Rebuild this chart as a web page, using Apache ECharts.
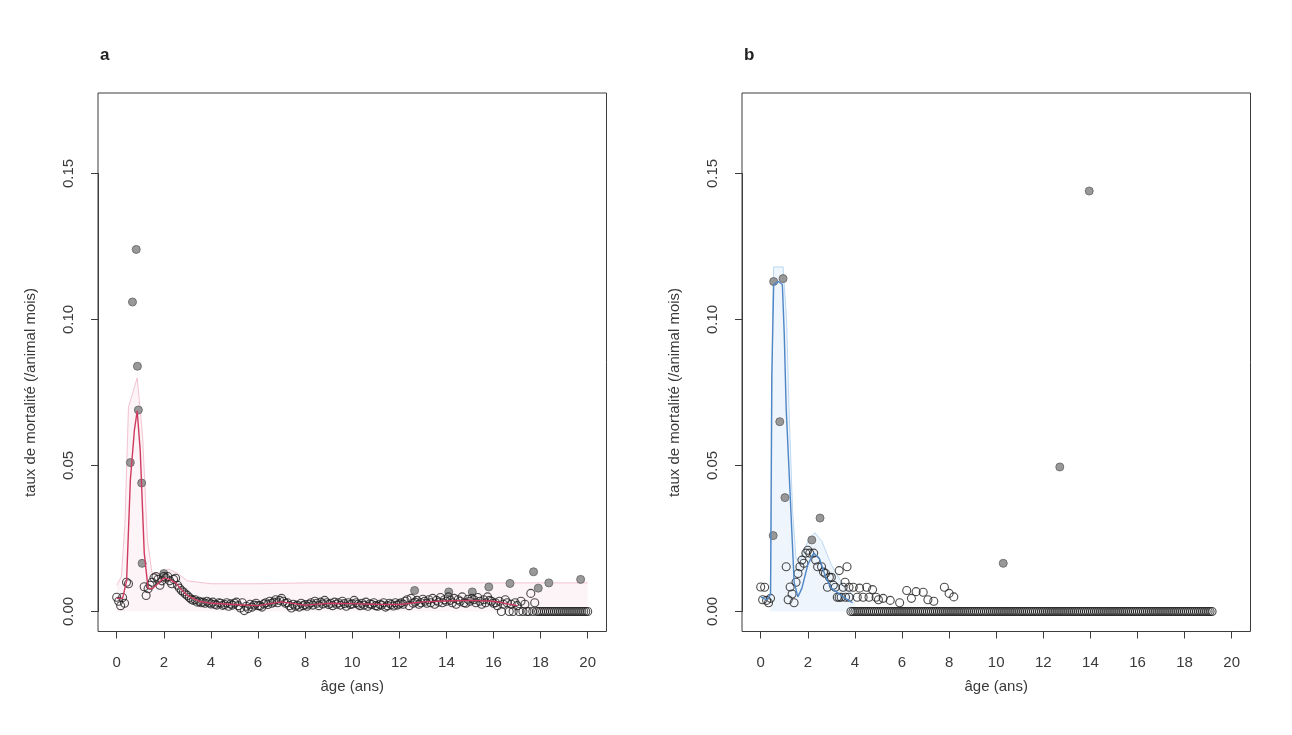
<!DOCTYPE html>
<html><head><meta charset="utf-8">
<script src="https://cdn.jsdelivr.net/npm/echarts/dist/echarts.min.js"></script>
<style>html,body{margin:0;padding:0;background:#fff}#c{width:1292px;height:735px}</style>
</head><body><div id="c"></div>
<script>
// ---- tick labels ----
const xTicks = [0, 2, 4, 6, 8, 10, 12, 14, 16, 18, 20];
const yTicks = ['0.00', '0.05', '0.10', '0.15'];
const panelLabels = ['a', 'b'];
const xTitle = 'âge (ans)';
const yTitle = 'taux de mortalité (/animal mois)';

// ---- panel a : monthly mortality rate (one value per month of age, from 0 months) ----
const rateA = [
  0.0049, 0.0035, 0.0020, 0.0048, 0.0028, 0.0100, 0.0095, null, null, null, null, null,
  null, null, 0.0085, 0.0055, 0.0078, 0.0090, 0.0100, 0.0115, 0.0120, 0.0110, 0.0090, 0.0105,
  0.0120, 0.0115, 0.0120, 0.0105, 0.0095, 0.0110, 0.0114, 0.0090, 0.0080, 0.0072, 0.0067, 0.0060,
  0.0055, 0.0048, 0.0042, 0.0038, 0.0040, 0.0032, 0.0035, 0.0030, 0.0032, 0.0028, 0.0035, 0.0030,
  0.0026, 0.0032, 0.0025, 0.0022, 0.0030, 0.0028, 0.0021, 0.0024, 0.0030, 0.0018, 0.0026, 0.0022,
  0.0028, 0.0032, 0.0020, 0.0012, 0.0030, 0.0003, 0.0018, 0.0010, 0.0025, 0.0015, 0.0022, 0.0028,
  0.0020, 0.0020, 0.0015, 0.0026, 0.0030, 0.0024, 0.0035, 0.0028, 0.0032, 0.0040, 0.0030, 0.0038,
  0.0045, 0.0035, 0.0028, 0.0030, 0.0020, 0.0012, 0.0025, 0.0018, 0.0022, 0.0015, 0.0028, 0.0020,
  0.0024, 0.0018, 0.0025, 0.0030, 0.0022, 0.0035, 0.0028, 0.0020, 0.0032, 0.0026, 0.0038, 0.0030,
  0.0024, 0.0028, 0.0020, 0.0032, 0.0025, 0.0030, 0.0022, 0.0035, 0.0027, 0.0018, 0.0030, 0.0024,
  0.0026, 0.0038, 0.0030, 0.0025, 0.0020, 0.0028, 0.0022, 0.0032, 0.0018, 0.0026, 0.0024, 0.0030,
  0.0020, 0.0018, 0.0025, 0.0022, 0.0030, 0.0015, 0.0020, 0.0028, 0.0024, 0.0019, 0.0030, 0.0022,
  0.0026, 0.0030, 0.0025, 0.0035, 0.0040, 0.0020, 0.0045, 0.0028, 0.0032, 0.0038, 0.0025, 0.0030,
  0.0042, 0.0035, 0.0028, 0.0040, 0.0030, 0.0045, 0.0025, 0.0038, 0.0032, 0.0048, 0.0030, 0.0040,
  0.0035, 0.0050, 0.0038, 0.0030, 0.0045, 0.0025, 0.0040, 0.0035, 0.0050, 0.0030, 0.0028, 0.0042,
  0.0035, 0.0045, 0.0040, 0.0030, 0.0048, 0.0035, 0.0025, 0.0040, 0.0030, 0.0050, 0.0038, 0.0035,
  0.0028, 0.0030, 0.0020, 0.0035, 0.0000, 0.0025, 0.0040, 0.0030, 0.0000, 0.0025, 0.0000, 0.0030,
  0.0020, 0.0000, 0.0035, 0.0000, 0.0025, 0.0000, 0.0000, 0.0062, 0.0000, 0.0030, 0.0000, 0.0000,
  0.0000, 0.0000, 0.0000, 0.0000, 0.0000, 0.0000, 0.0000, 0.0000, 0.0000, 0.0000, 0.0000, 0.0000,
  0.0000, 0.0000, 0.0000, 0.0000, 0.0000, 0.0000, 0.0000, 0.0000, 0.0000, 0.0000, 0.0000, 0.0000,
  0.0000
];
// grey filled points (age in years, rate)
const filledA = [
  [0.58, 0.051], [0.67, 0.106], [0.83, 0.124], [0.88, 0.084], [0.92, 0.069], [1.06, 0.044],
  [1.08, 0.0165], [2.0, 0.013], [12.65, 0.0072], [14.1, 0.0067], [15.1, 0.0067], [15.8, 0.0084],
  [16.7, 0.0096], [17.7, 0.0136], [17.9, 0.008], [18.35, 0.0098], [19.7, 0.011]
];
// fitted curve (red) and upper envelope (pink)
const fitA = [
  [0, 0.0045], [0.25, 0.0045], [0.42, 0.0105], [0.58, 0.045], [0.75, 0.062], [0.87, 0.0687],
  [1.0, 0.055], [1.17, 0.02], [1.33, 0.008], [1.5, 0.0078], [1.75, 0.0095], [2.0, 0.0115],
  [2.25, 0.011], [2.5, 0.0098], [2.75, 0.0075], [3.0, 0.0055], [3.5, 0.0035], [4, 0.0028],
  [5, 0.0024], [6, 0.002], [7, 0.0033], [8, 0.0022], [9, 0.0028], [10, 0.0027], [11, 0.0025],
  [12, 0.0024], [13, 0.0033], [14, 0.0036], [15, 0.0038], [16, 0.0035], [17, 0.002]
];
const envA = [
  [0, 0.009], [0.2, 0.012], [0.35, 0.03], [0.5, 0.07], [0.87, 0.08], [1.1, 0.06], [1.3, 0.025],
  [1.5, 0.013], [1.8, 0.013], [2.2, 0.0145], [2.6, 0.013], [3, 0.0105], [4, 0.0095], [6, 0.0095],
  [8, 0.0098], [10, 0.0098], [12, 0.0098], [14, 0.0098], [16, 0.0098], [18, 0.0098], [20, 0.0098]
];

// ---- panel b ----
const rateB = [
  0.0084, 0.0040, 0.0083, 0.0038, 0.0030, 0.0045, null, null, null, null, null, null,
  null, 0.0153, 0.0040, 0.0084, 0.0060, 0.0030, 0.0100, 0.0130, 0.0153, 0.0176, 0.0165, 0.0200,
  0.0210, 0.0200, null, 0.0200, 0.0176, 0.0153, null, 0.0153, 0.0135, 0.0130, 0.0083, 0.0117,
  0.0117, 0.0090, 0.0083, 0.0049, 0.0140, 0.0049, 0.0083, 0.0100, 0.0153, 0.0049, 0.0000, 0.0000,
  0, 0, 0, 0, 0, 0, 0, 0, 0, 0, 0, 0,
  0, 0, 0, 0, 0, 0, 0, 0, 0, 0, 0, 0,
  0, 0, 0, 0, 0, 0, 0, 0, 0, 0, 0, 0,
  0, 0, 0, 0, 0, 0, 0, 0, 0, 0, 0, 0,
  0, 0, 0, 0, 0, 0, 0, 0, 0, 0, 0, 0,
  0, 0, 0, 0, 0, 0, 0, 0, 0, 0, 0, 0,
  0, 0, 0, 0, 0, 0, 0, 0, 0, 0, 0, 0,
  0, 0, 0, 0, 0, 0, 0, 0, 0, 0, 0, 0,
  0, 0, 0, 0, 0, 0, 0, 0, 0, 0, 0, 0,
  0, 0, 0, 0, 0, 0, 0, 0, 0, 0, 0, 0,
  0, 0, 0, 0, 0, 0, 0, 0, 0, 0, 0, 0,
  0, 0, 0, 0, 0, 0, 0, 0, 0, 0, 0, 0,
  0, 0, 0, 0, 0, 0, 0, 0, 0, 0, 0, 0,
  0, 0, 0, 0, 0, 0, 0, 0, 0, 0, 0, 0,
  0, 0, 0, 0, 0, 0, 0, 0, 0, 0, 0, 0,
  0, 0, 0
];
const extraB = [
  [3.33, 0.0049], [3.6, 0.0049], [3.75, 0.0083], [3.93, 0.0083], [4.1, 0.0049], [4.2, 0.008],
  [4.35, 0.0049], [4.5, 0.0083], [4.6, 0.0049], [4.75, 0.0075], [4.9, 0.0049], [5.0, 0.004],
  [5.2, 0.0045], [5.5, 0.0038], [5.9, 0.003], [6.2, 0.0072], [6.4, 0.0045], [6.6, 0.0068],
  [6.9, 0.0066], [7.1, 0.004], [7.35, 0.0035], [7.8, 0.0083], [8.0, 0.0062], [8.2, 0.005]
];
const filledB = [
  [0.53, 0.026], [0.55, 0.113], [0.81, 0.065], [0.95, 0.114], [1.03, 0.039], [2.17, 0.0245],
  [2.52, 0.032], [10.3, 0.0165], [12.7, 0.0495], [13.95, 0.144]
];
const fitB = [
  [0, 0.005], [0.25, 0.004], [0.42, 0.006], [0.47, 0.08], [0.55, 0.112], [0.75, 0.113],
  [0.92, 0.112], [1.0, 0.095], [1.08, 0.07], [1.25, 0.04], [1.42, 0.01], [1.58, 0.005],
  [1.75, 0.008], [2.0, 0.016], [2.25, 0.02], [2.5, 0.018], [2.75, 0.012], [3.0, 0.008],
  [3.5, 0.005], [3.9, 0.003]
];
const envB = [
  [0.4, 0.004], [0.45, 0.03], [0.5, 0.1], [0.55, 0.118], [0.95, 0.118], [1.1, 0.1], [1.2, 0.07],
  [1.35, 0.035], [1.5, 0.018], [1.7, 0.018], [2.0, 0.024], [2.3, 0.027], [2.6, 0.024],
  [3.0, 0.016], [3.5, 0.009], [4.0, 0.005]
];

// ---- build ----
const monthly = arr => arr.map((v, i) => [i / 12, v]);
const FONT = 'Liberation Sans, Arial, Helvetica, sans-serif';
const AX = '#3c3c3c', TXT = '#3a3a3a';
const PX = [0, 644];   // horizontal shift of panel b

const grids = [], xAxes = [], yAxes = [], series = [], titles = [];
[0, 1].forEach(p => {
  const dx = PX[p];
  grids.push({ left: 98 + dx, top: 93, width: 508.5, height: 538.5, show: true,
    borderColor: AX, borderWidth: 1, backgroundColor: 'transparent' });
  grids.push({ left: 116.7 + dx, top: 173.5, width: 471, height: 438 });
  const gb = p * 2, gd = p * 2 + 1;
  xAxes.push({ gridIndex: gb, show: false, min: 0, max: 1 });
  yAxes.push({ gridIndex: gb, show: false, min: 0, max: 1 });
  xAxes.push({ gridIndex: gd, type: 'value', min: xTicks[0], max: xTicks[xTicks.length - 1],
    interval: xTicks[1] - xTicks[0], offset: 20,
    axisLine: { show: true, onZero: false, lineStyle: { color: AX, width: 1 } },
    axisTick: { show: true, inside: false, length: 7, lineStyle: { color: AX } },
    axisLabel: { margin: 24, fontSize: 15, color: TXT, fontFamily: FONT },
    splitLine: { show: false },
    name: xTitle, nameLocation: 'middle', nameGap: 48,
    nameTextStyle: { fontSize: 15, color: TXT, fontFamily: FONT } });
  yAxes.push({ gridIndex: gd, type: 'value', min: 0, max: 0.15, interval: 0.05, offset: 18.7,
    axisLine: { show: true, onZero: false, lineStyle: { color: AX, width: 1 } },
    axisTick: { show: true, inside: false, length: 7, lineStyle: { color: AX } },
    axisLabel: { rotate: 90, margin: 22, fontSize: 15, color: TXT, fontFamily: FONT,
      formatter: (v) => yTicks[Math.round(v / 0.05)] },
    splitLine: { show: false },
    name: yTitle, nameLocation: 'middle', nameGap: 60, nameRotate: 90,
    nameTextStyle: { fontSize: 15, color: TXT, fontFamily: FONT } });
  titles.push({ text: panelLabels[p], left: 95 + dx, top: 42,
    textStyle: { fontSize: 17, fontWeight: 'bold', color: '#222', fontFamily: FONT } });
});

const common = (g) => ({ xAxisIndex: g, yAxisIndex: g, clip: false, silent: true, animation: false });
const openStyle = { color: 'rgba(0,0,0,0)', borderColor: '#1e1e1e', borderWidth: 1.1 };
const grayStyle = { color: '#8e8e8e', borderColor: '#6a6a6a', borderWidth: 1, opacity: 0.9 };

// panel a
series.push(Object.assign(common(1), { type: 'line', data: envA, symbol: 'none',
  lineStyle: { color: '#f3c3d0', width: 1 }, areaStyle: { color: 'rgba(248,210,222,0.35)' }, z: 1 }));
series.push(Object.assign(common(1), { type: 'scatter', data: monthly(rateA), symbol: 'circle',
  symbolSize: 8, itemStyle: openStyle, z: 3 }));
series.push(Object.assign(common(1), { type: 'scatter', data: filledA, symbol: 'circle',
  symbolSize: 8, itemStyle: grayStyle, z: 2 }));
series.push(Object.assign(common(1), { type: 'line', data: fitA, symbol: 'none',
  lineStyle: { color: '#cf3b60', width: 1.4 }, z: 4 }));
// panel b
series.push(Object.assign(common(3), { type: 'line', data: envB, symbol: 'none',
  lineStyle: { color: '#bcd8f2', width: 1 }, areaStyle: { color: 'rgba(200,224,246,0.45)' }, z: 1 }));
series.push(Object.assign(common(3), { type: 'scatter', data: monthly(rateB), symbol: 'circle',
  symbolSize: 8, itemStyle: openStyle, z: 3 }));
series.push(Object.assign(common(3), { type: 'scatter', data: extraB, symbol: 'circle',
  symbolSize: 8, itemStyle: openStyle, z: 3 }));
series.push(Object.assign(common(3), { type: 'scatter', data: filledB, symbol: 'circle',
  symbolSize: 8, itemStyle: grayStyle, z: 2 }));
series.push(Object.assign(common(3), { type: 'line', data: fitB, symbol: 'none',
  lineStyle: { color: '#4f86c6', width: 1.4 }, z: 4 }));

const chart = echarts.init(document.getElementById('c'), null, { renderer: 'canvas' });
chart.setOption({
  backgroundColor: '#ffffff', animation: false,
  title: titles, grid: grids, xAxis: xAxes, yAxis: yAxes, series: series
});
</script></body></html>
